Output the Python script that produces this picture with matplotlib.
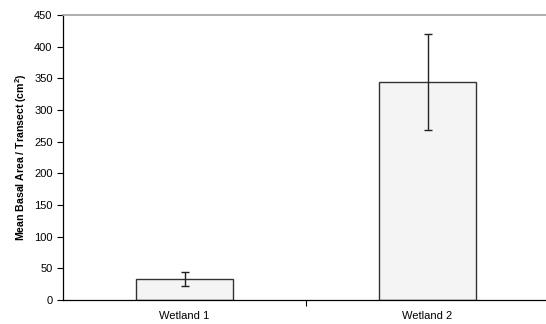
import matplotlib
matplotlib.use("Agg")
import matplotlib.pyplot as plt
import numpy as np

plt.rcParams['font.family'] = ['Liberation Sans', 'DejaVu Sans']
plt.rcParams['mathtext.default'] = 'regular'

# datos
categorias = ["Wetland 1", "Wetland 2"]
medias = [33, 344]
errores = [11, 76]

fig = plt.figure(figsize=(5.46, 3.24), dpi=100)
ax = fig.add_axes([63/546, 24/324, 486/546, 285/324])

x = np.arange(len(categorias))
ax.bar(x, medias, width=0.4, color="#f4f4f4", edgecolor="#333333", linewidth=1.0)
ax.errorbar(x, medias, yerr=errores, fmt="none", ecolor="#222222",
            elinewidth=1.0, capsize=3, capthick=1.0)

ax.set_xlim(-0.5, 1.5)
ax.set_ylim(0, 450)
ax.set_yticks(np.arange(0, 451, 50))
ax.tick_params(axis="y", labelsize=8, length=4, width=0.8, direction="out")

# etiquetas sin marcas, una marca entre categorias
ax.set_xticks(x)
ax.set_xticklabels(categorias, fontsize=8)
ax.tick_params(axis="x", length=0, pad=8)
ax.set_xticks([0.5], minor=True)
ax.tick_params(axis="x", which="minor", length=4, width=0.8)

ax.spines["right"].set_visible(False)
ax.spines["top"].set_color("#a0a0a0")
ax.spines["top"].set_linewidth(1.2)
ax.spines["left"].set_linewidth(0.9)
ax.spines["bottom"].set_linewidth(0.9)

ax.set_ylabel("Mean Basal Area / Transect (cm$^2$)", fontsize=7.6, fontweight="bold",
              labelpad=4)

fig.savefig("out.png", dpi=100)
